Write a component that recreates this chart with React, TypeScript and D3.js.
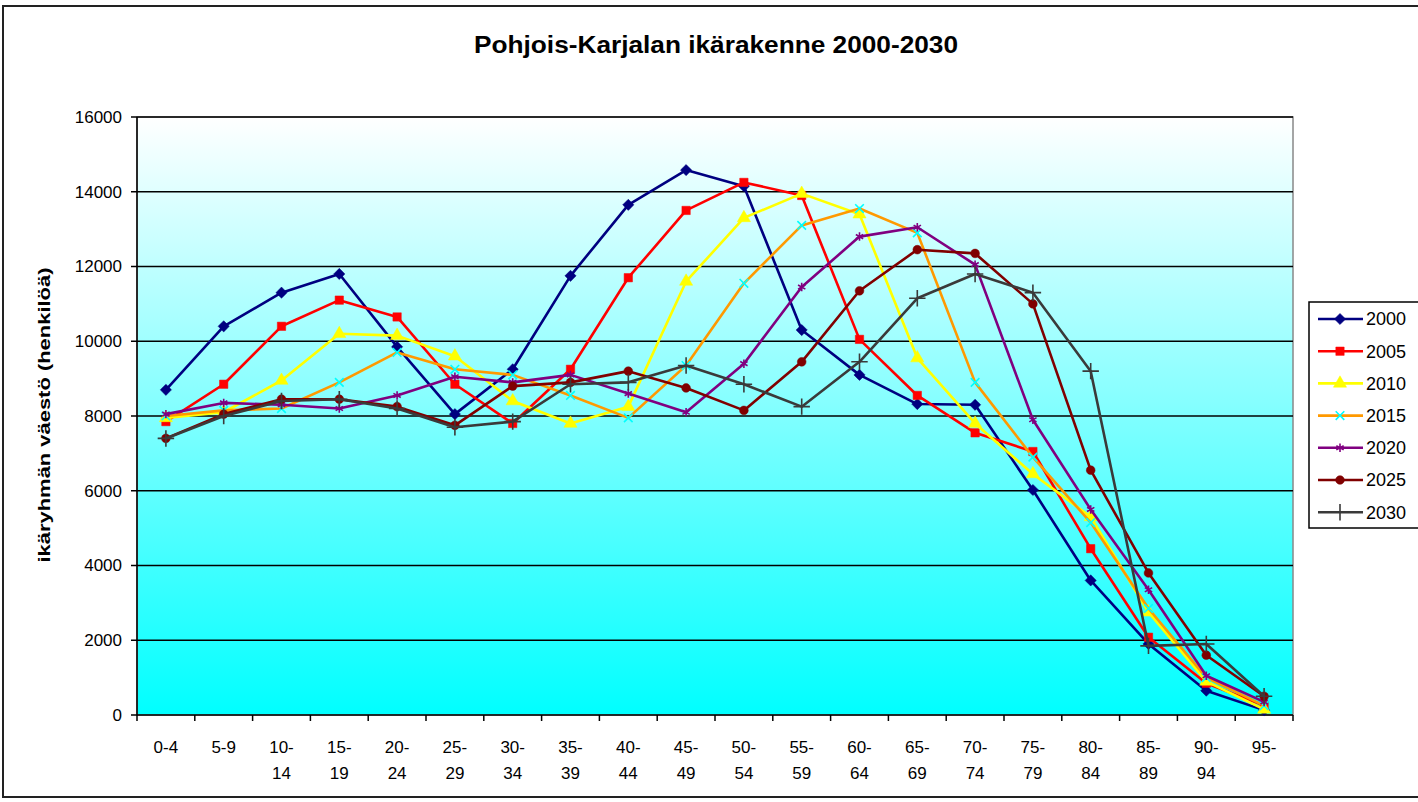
import * as d3 from "d3";

// age groups (x categories) and their two-line tick labels
const ageGroups = ["0-4", "5-9", "10-14", "15-19", "20-24", "25-29", "30-34", "35-39", "40-44", "45-49",
  "50-54", "55-59", "60-64", "65-69", "70-74", "75-79", "80-84", "85-89", "90-94", "95-"];
const ageLabels = [["0-4"], ["5-9"], ["10-", "14"], ["15-", "19"], ["20-", "24"], ["25-", "29"], ["30-", "34"],
  ["35-", "39"], ["40-", "44"], ["45-", "49"], ["50-", "54"], ["55-", "59"], ["60-", "64"], ["65-", "69"],
  ["70-", "74"], ["75-", "79"], ["80-", "84"], ["85-", "89"], ["90-", "94"], ["95-"]];

const yTicks = [0, 2000, 4000, 6000, 8000, 10000, 12000, 14000, 16000];

const v2000 = [8700, 10400, 11300, 11800, 9850, 8050, 9250, 11750, 13650, 14580, 14150, 10300, 9100, 8320, 8300, 6020, 3600, 1900, 650, 130];
const v2005 = [7850, 8850, 10400, 11100, 10650, 8850, 7800, 9250, 11700, 13500, 14250, 13900, 10050, 8550, 7550, 7050, 4450, 2080, 850, 250];
const v2010 = [7950, 8100, 8950, 10200, 10150, 9600, 8400, 7800, 8250, 11600, 13300, 13950, 13400, 9550, 7800, 6450, 5300, 2750, 900, 150];
const v2015 = [8000, 8150, 8200, 8900, 9700, 9250, 9100, 8550, 7950, 9350, 11550, 13100, 13550, 12900, 8900, 6900, 5150, 2850, 1000, 250];
const v2020 = [8050, 8350, 8300, 8200, 8550, 9050, 8900, 9100, 8600, 8100, 9400, 11450, 12800, 13050, 12050, 7900, 5500, 3350, 1050, 350];
const v2025 = [7400, 8050, 8450, 8450, 8250, 7750, 8800, 8900, 9200, 8750, 8150, 9450, 11350, 12450, 12350, 11000, 6550, 3800, 1600, 500];
const v2030 = [7400, 8000, 8400, 8450, 8200, 7700, 7850, 8850, 8900, 9350, 8850, 8250, 9450, 11150, 11800, 11300, 9200, 1850, 1900, 500];

const series = [
  { name: "2000", values: v2000, color: "#000080", marker: "#000080", symbol: d3.symbolDiamond2, size: 80, stroke: false },
  { name: "2005", values: v2005, color: "#ff0000", marker: "#ff0000", symbol: d3.symbolSquare, size: 70, stroke: false },
  { name: "2010", values: v2010, color: "#ffff00", marker: "#ffff00", symbol: d3.symbolTriangle, size: 75, stroke: false },
  { name: "2015", values: v2015, color: "#ff9900", marker: "#00ffff", symbol: d3.symbolTimes, size: 50, stroke: true },
  { name: "2020", values: v2020, color: "#800080", marker: "#800080", symbol: d3.symbolAsterisk, size: 50, stroke: true },
  { name: "2025", values: v2025, color: "#800000", marker: "#800000", symbol: d3.symbolCircle, size: 60, stroke: false },
  { name: "2030", values: v2030, color: "#3a3a3a", marker: "#3a3a3a", symbol: d3.symbolPlus, size: 90, stroke: true },
];

const font = "'Liberation Sans', Arial, sans-serif";

export default function App() {
  const left = 137, right = 1293, top = 117, bottom = 715;

  const x = d3.scaleBand<string>().domain(ageGroups).range([left, right]).padding(0);
  const y = d3.scaleLinear().domain([0, 16000]).range([bottom, top]);
  const cx = (c: string) => (x(c) as number) + x.bandwidth() / 2;

  const line = d3.line<number>()
    .x((_, i) => cx(ageGroups[i]))
    .y((d) => y(d));

  const marker = (s: typeof series[number], px: number, py: number, key: string) => {
    const d = d3.symbol(s.symbol, s.size)() as string;
    return s.stroke ? (
      <path key={key} d={d} transform={`translate(${px},${py})`} fill="none" stroke={s.marker} strokeWidth={1.6} />
    ) : (
      <path key={key} d={d} transform={`translate(${px},${py})`} fill={s.marker} stroke={s.marker} strokeWidth={0.5} />
    );
  };

  return (
    <svg width={1418} height={802} style={{ position: "absolute", left: 0, top: 0, background: "#fff" }} fontFamily={font}>
      <defs>
        <linearGradient id="bg" x1="0" y1="0" x2="0" y2="1">
          <stop offset="0%" stopColor="#ffffff" />
          <stop offset="100%" stopColor="#00ffff" />
        </linearGradient>
      </defs>

      {/* chart frame */}
      <rect x={3} y={6} width={1430} height={791} fill="#fff" stroke="#222" strokeWidth={2} />

      <text x={716} y={53} textAnchor="middle" fontSize={23} fontWeight="bold" textLength={484} lengthAdjust="spacingAndGlyphs">
        Pohjois-Karjalan ikärakenne 2000-2030
      </text>

      {/* plot area */}
      <rect x={left} y={top} width={right - left} height={bottom - top} fill="url(#bg)" stroke="#888" strokeWidth={1.5} />

      {yTicks.filter((t) => t > 0).map((t) => (
        <line key={"g" + t} x1={left} x2={right} y1={y(t)} y2={y(t)} stroke="#000" strokeWidth={1.5} />
      ))}

      {/* y axis */}
      <line x1={left} x2={left} y1={top} y2={bottom} stroke="#000" strokeWidth={1.5} />
      {yTicks.map((t) => (
        <g key={"yt" + t}>
          <line x1={left - 6} x2={left} y1={y(t)} y2={y(t)} stroke="#000" strokeWidth={1.5} />
          <text x={122} y={y(t)} dy="0.35em" textAnchor="end" fontSize={17}>{t}</text>
        </g>
      ))}

      {/* x axis */}
      <line x1={left} x2={right} y1={bottom} y2={bottom} stroke="#000" strokeWidth={1.5} />
      {ageGroups.map((c) => (
        <line key={"xt" + c} x1={x(c) as number} x2={x(c) as number} y1={bottom} y2={bottom + 6} stroke="#000" strokeWidth={1.5} />
      ))}
      <line x1={right} x2={right} y1={bottom} y2={bottom + 6} stroke="#000" strokeWidth={1.5} />
      {ageGroups.map((c, i) => (
        <text key={"xl" + c} x={cx(c)} y={753} textAnchor="middle" fontSize={17}>
          {ageLabels[i].map((l, j) => (
            <tspan key={j} x={cx(c)} dy={j === 0 ? 0 : 26}>{l}</tspan>
          ))}
        </text>
      ))}

      <text transform="translate(50,415) rotate(-90)" textAnchor="middle" fontSize={17} fontWeight="bold" textLength={295} lengthAdjust="spacingAndGlyphs">
        ikäryhmän väestö (henkilöä)
      </text>

      {/* series */}
      {series.map((s) => (
        <g key={s.name}>
          <path d={line(s.values) as string} fill="none" stroke={s.color} strokeWidth={2.6} strokeLinejoin="round" />
          {s.values.map((v, i) => marker(s, cx(ageGroups[i]), y(v), s.name + i))}
        </g>
      ))}

      {/* legend */}
      <rect x={1309} y={302} width={130} height={226} fill="#fff" stroke="#000" strokeWidth={1.5} />
      {series.map((s, i) => {
        const ly = 319 + i * 32.2;
        return (
          <g key={"lg" + s.name}>
            <line x1={1318} x2={1363} y1={ly} y2={ly} stroke={s.color} strokeWidth={2.6} />
            {marker(s, 1340, ly, "lm" + s.name)}
            <text x={1366} y={ly} dy="0.35em" fontSize={18}>{s.name}</text>
          </g>
        );
      })}
    </svg>
  );
}
